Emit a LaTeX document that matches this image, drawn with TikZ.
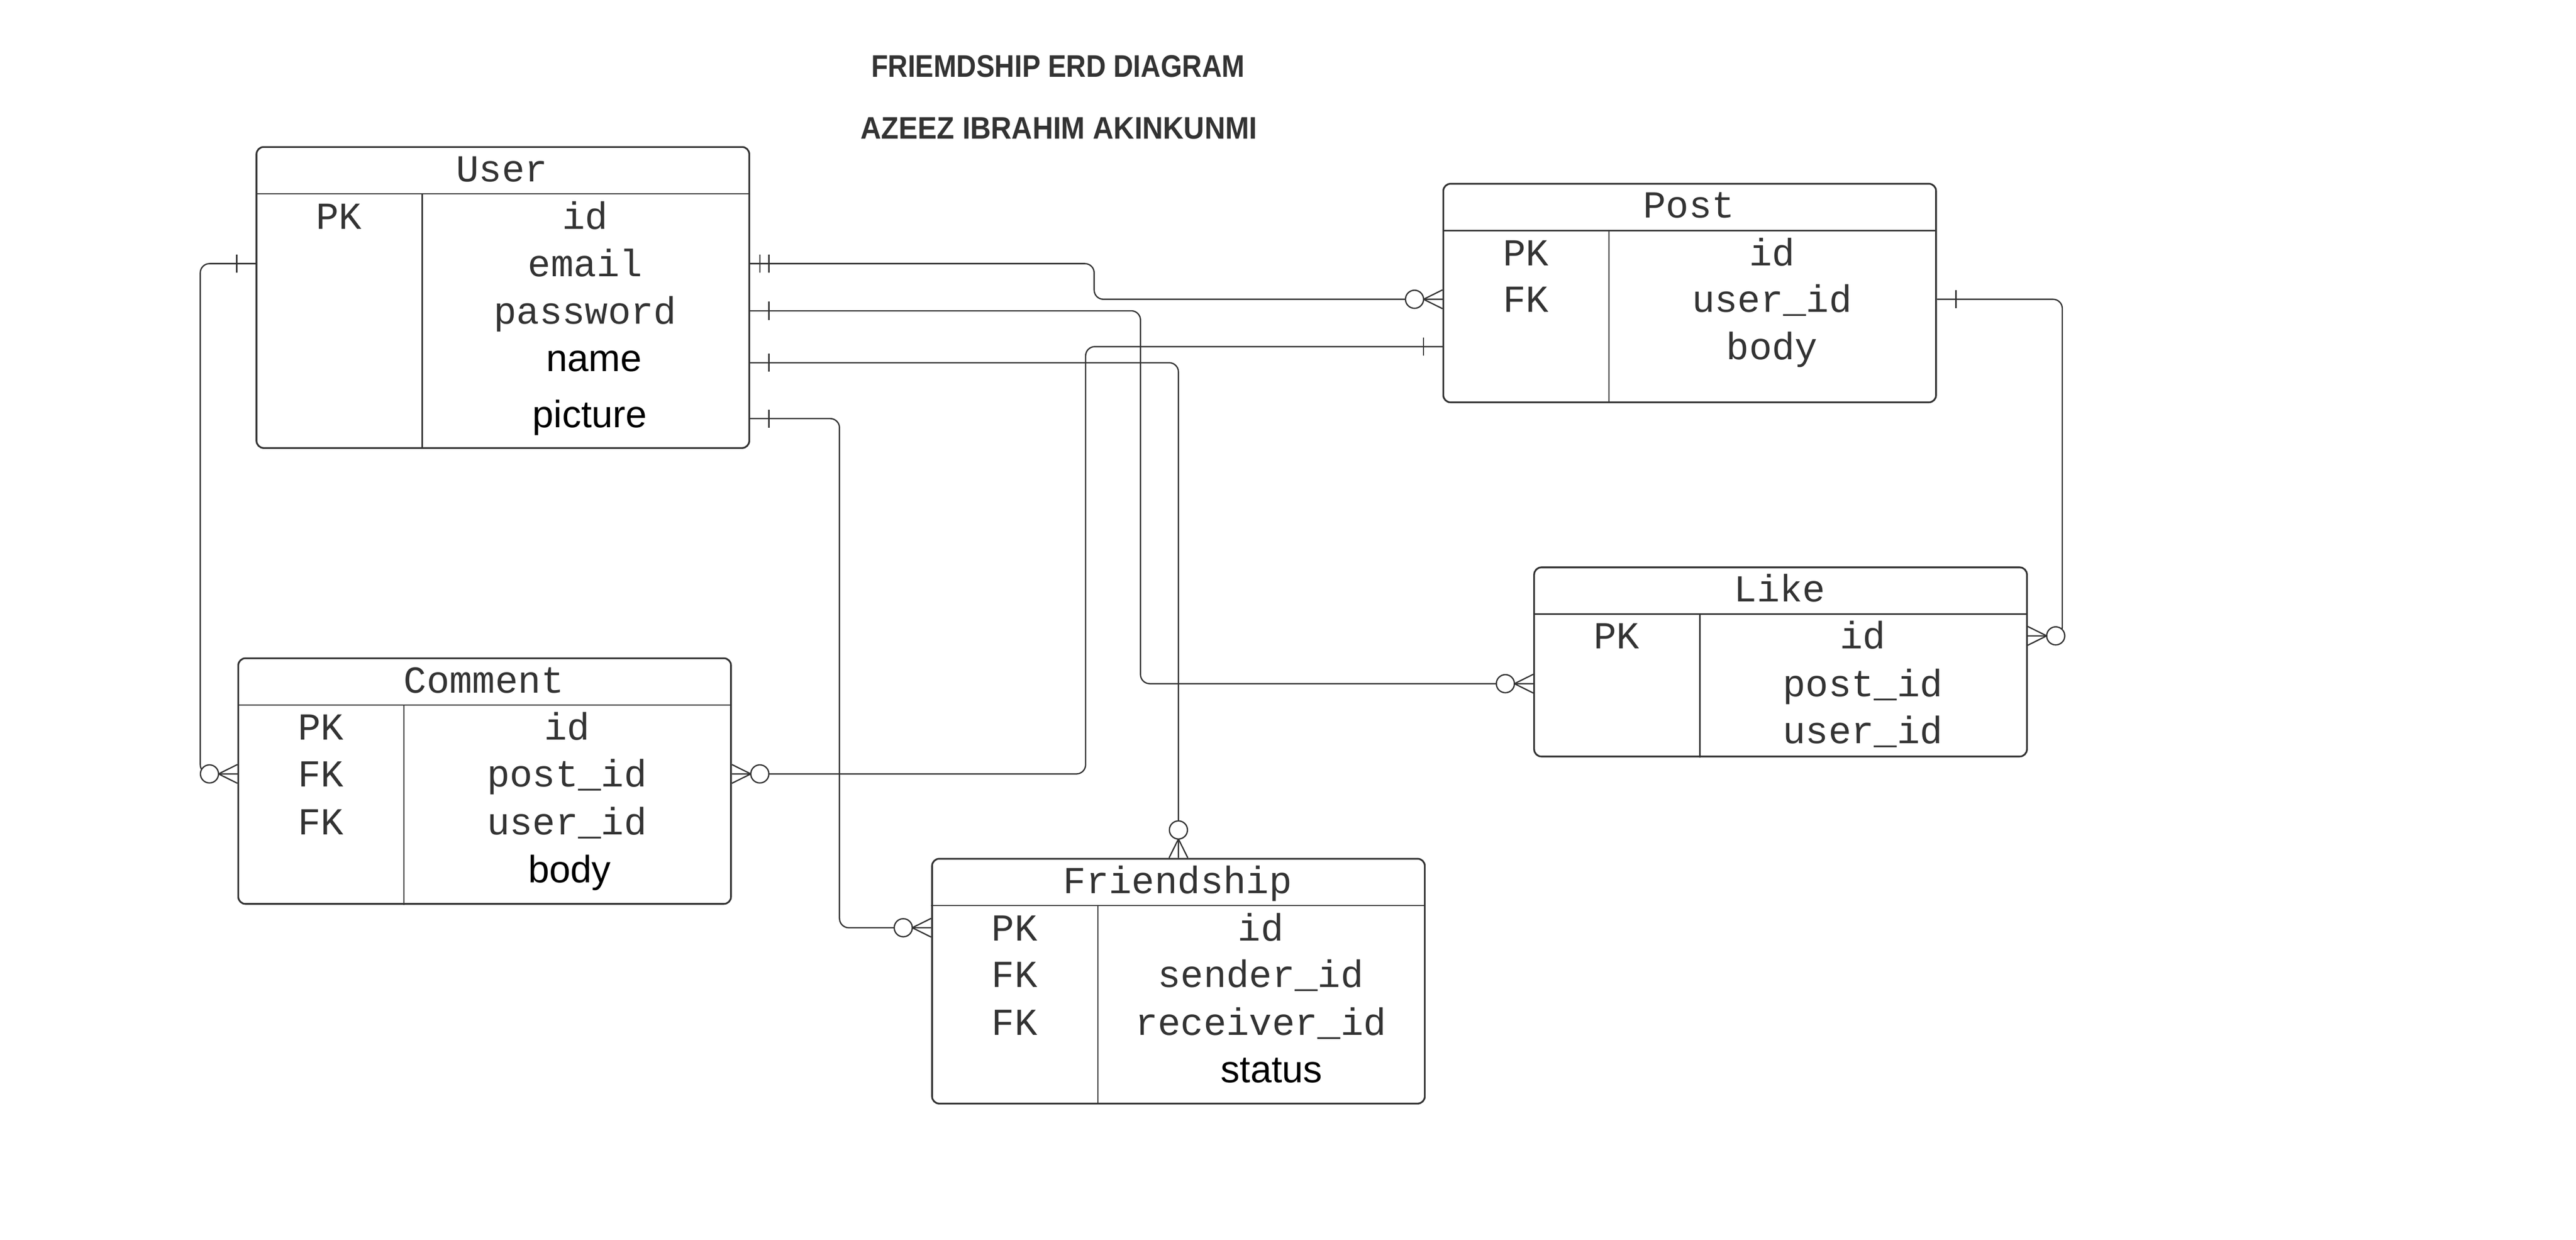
\documentclass[tikz,border=0pt]{standalone}
\usepackage{fontspec}
\setmainfont{Liberation Sans}
\setmonofont{Liberation Mono}
\usepackage{tikz}
\definecolor{ink}{HTML}{333333}
\tikzset{
    entity/.style={draw=ink, line width=0.6pt, rounded corners=2.5pt, minimum width=6cm, inner sep=0pt, anchor=north west},
    rowline/.style={draw=ink, line width=0.45pt},
    rel/.style={draw=ink, line width=0.45pt, rounded corners=3.2pt},
    field/.style={font=\ttfamily\fontsize{13.2}{15}\selectfont, text=ink, inner sep=0pt, text height=12pt, text depth=3pt},
    sfield/.style={font=\fontsize{13.2}{15}\selectfont, text=black, inner sep=0pt, text height=9pt, text depth=3pt},
    titletext/.style={font=\bfseries\fontsize{10.8}{13}\selectfont, text=ink, anchor=base, inner sep=0pt},
    zeromany/.pic={\draw[rowline] (0,-5.7) -- (-11.5,0) -- (0,5.7);
        \draw[rowline, fill=white] (-17,0) circle (5.5);},
    onebar/.pic={\draw[rowline] (-11.5,-5.5) -- (-11.5,5.5);},
    twobar/.pic={\draw[rowline] (-6,-5.5) -- (-6,5.5) (-11.5,-5.5) -- (-11.5,5.5);}
}

\begin{document}
\begin{tikzpicture}[x=0.02cm, y=-0.02cm]
            \useasboundingbox (0,0) rectangle (1568,754.4);

            \node[titletext] (title) at (644,47) {\scalebox{0.88}[1]{FRIEMDSHIP ERD DIAGRAM}};
            \node[titletext] (author) at (644.5,84.5) {\scalebox{0.92}[1]{AZEEZ IBRAHIM AKINKUNMI}};

            \node[entity, minimum height=3.664cm] (user) at (155.6,88.9) {};
            \draw[rowline] (user.north west) ++(0,29) -- +(300,0);
            \draw[rowline] (user.north west) ++(101.4,29) coordinate (u-div) -- (u-div |- user.south);
            \node[field] (u-head) at (305.5,102.6) {User};
            \node[field] (u-pk) at (206.3,131.6) {PK};
            \node[field] (u-id) at (356.2,131.6) {id};
            \node[field] (u-email) at (356.2,160.4) {email};
            \node[field] (u-pass) at (356.2,189.1) {password};
            \node[sfield] (u-name) at (361.6,220.7) {name};
            \node[sfield] (u-pic) at (359,254.7) {picture};

            \node[entity, minimum height=2.66cm] (post) at (878,111.3) {};
            \draw[rowline] (post.north west) ++(0,29) -- +(300,0);
            \draw[rowline] (post.north west) ++(101.4,29) coordinate (p-div) -- (p-div |- post.south);
            \node[field] (p-head) at (1028,124.6) {Post};
            \node[field] (p-pk) at (928.7,153.7) {PK};
            \node[field] (p-id) at (1078.6,153.7) {id};
            \node[field] (p-fk) at (928.7,182.1) {FK};
            \node[field] (p-uid) at (1078.6,182.1) {user\_id};
            \node[field] (p-body) at (1078.6,210.9) {body};

            \node[entity, minimum height=2.302cm] (like) at (933.3,344.7) {};
            \draw[rowline] (like.north west) ++(0,29) -- +(300,0);
            \draw[rowline] (like.north west) ++(101.4,29) coordinate (l-div) -- (l-div |- like.south);
            \node[field] (l-head) at (1083.3,358.1) {Like};
            \node[field] (l-pk) at (984,386.9) {PK};
            \node[field] (l-id) at (1133.9,386.9) {id};
            \node[field] (l-post) at (1133.9,416) {post\_id};
            \node[field] (l-user) at (1133.9,444.3) {user\_id};

            \node[entity, minimum height=2.99cm] (comment) at (144.5,400) {};
            \draw[rowline] (comment.north west) ++(0,29) -- +(300,0);
            \draw[rowline] (comment.north west) ++(101.4,29) coordinate (c-div) -- (c-div |- comment.south);
            \node[field] (c-head) at (294.5,413.7) {Comment};
            \node[field] (c-pk) at (195.2,442.1) {PK};
            \node[field] (c-id) at (345.1,442.1) {id};
            \node[field] (c-fk1) at (195.2,470.9) {FK};
            \node[field] (c-post) at (345.1,470.9) {post\_id};
            \node[field] (c-fk2) at (195.2,500.1) {FK};
            \node[field] (c-user) at (345.1,500.1) {user\_id};
            \node[sfield] (c-body) at (346.6,531.7) {body};

            \node[entity, minimum height=2.98cm] (friend) at (566.8,522) {};
            \draw[rowline] (friend.north west) ++(0,29) -- +(300,0);
            \draw[rowline] (friend.north west) ++(101.4,29) coordinate (f-div) -- (f-div |- friend.south);
            \node[field] (f-head) at (716.8,535.7) {Friendship};
            \node[field] (f-pk) at (617.5,564.5) {PK};
            \node[field] (f-id) at (767.4,564.5) {id};
            \node[field] (f-fk1) at (617.5,592.9) {FK};
            \node[field] (f-send) at (767.4,592.9) {sender\_id};
            \node[field] (f-fk2) at (617.5,621.9) {FK};
            \node[field] (f-recv) at (767.4,621.9) {receiver\_id};
            \node[sfield] (f-status) at (774,653.4) {status};

            \draw[rel] (user.east |- u-email) -| (666,0 |- p-uid) -- (post.west |- p-uid);
            \draw[rel] (user.east |- u-pass) -| (694.2,0 |- l-post) -- (like.west |- l-post);
            \draw[rel] (post.west |- p-body) -| (660.8,0 |- c-post) -- (comment.east |- c-post);
            \draw[rel] (user.east |- u-name) -| (friend.north);
            \draw[rel] (user.east |- u-pic) -| (511,0 |- f-id) -- (friend.west |- f-id);
            \draw[rel] (user.west |- u-email) -| (121.9,0 |- c-post) -- (comment.west |- c-post);
            \draw[rel] (post.east |- p-uid) -| (1255.3,0 |- l-id) -- (like.east |- l-id);

            \pic[rotate=180] at (user.east |- u-email) {twobar};
            \pic at (post.west |- p-uid) {zeromany};
            \pic[rotate=180] at (user.east |- u-pass) {onebar};
            \pic at (like.west |- l-post) {zeromany};
            \pic at (post.west |- p-body) {onebar};
            \pic[rotate=180] at (comment.east |- c-post) {zeromany};
            \pic[rotate=180] at (user.east |- u-name) {onebar};
            \pic[rotate=-90] at (friend.north) {zeromany};
            \pic[rotate=180] at (user.east |- u-pic) {onebar};
            \pic at (friend.west |- f-id) {zeromany};
            \pic at (user.west |- u-email) {onebar};
            \pic at (comment.west |- c-post) {zeromany};
            \pic[rotate=180] at (post.east |- p-uid) {onebar};
            \pic[rotate=180] at (like.east |- l-id) {zeromany};
        \end{tikzpicture}
\end{document}
